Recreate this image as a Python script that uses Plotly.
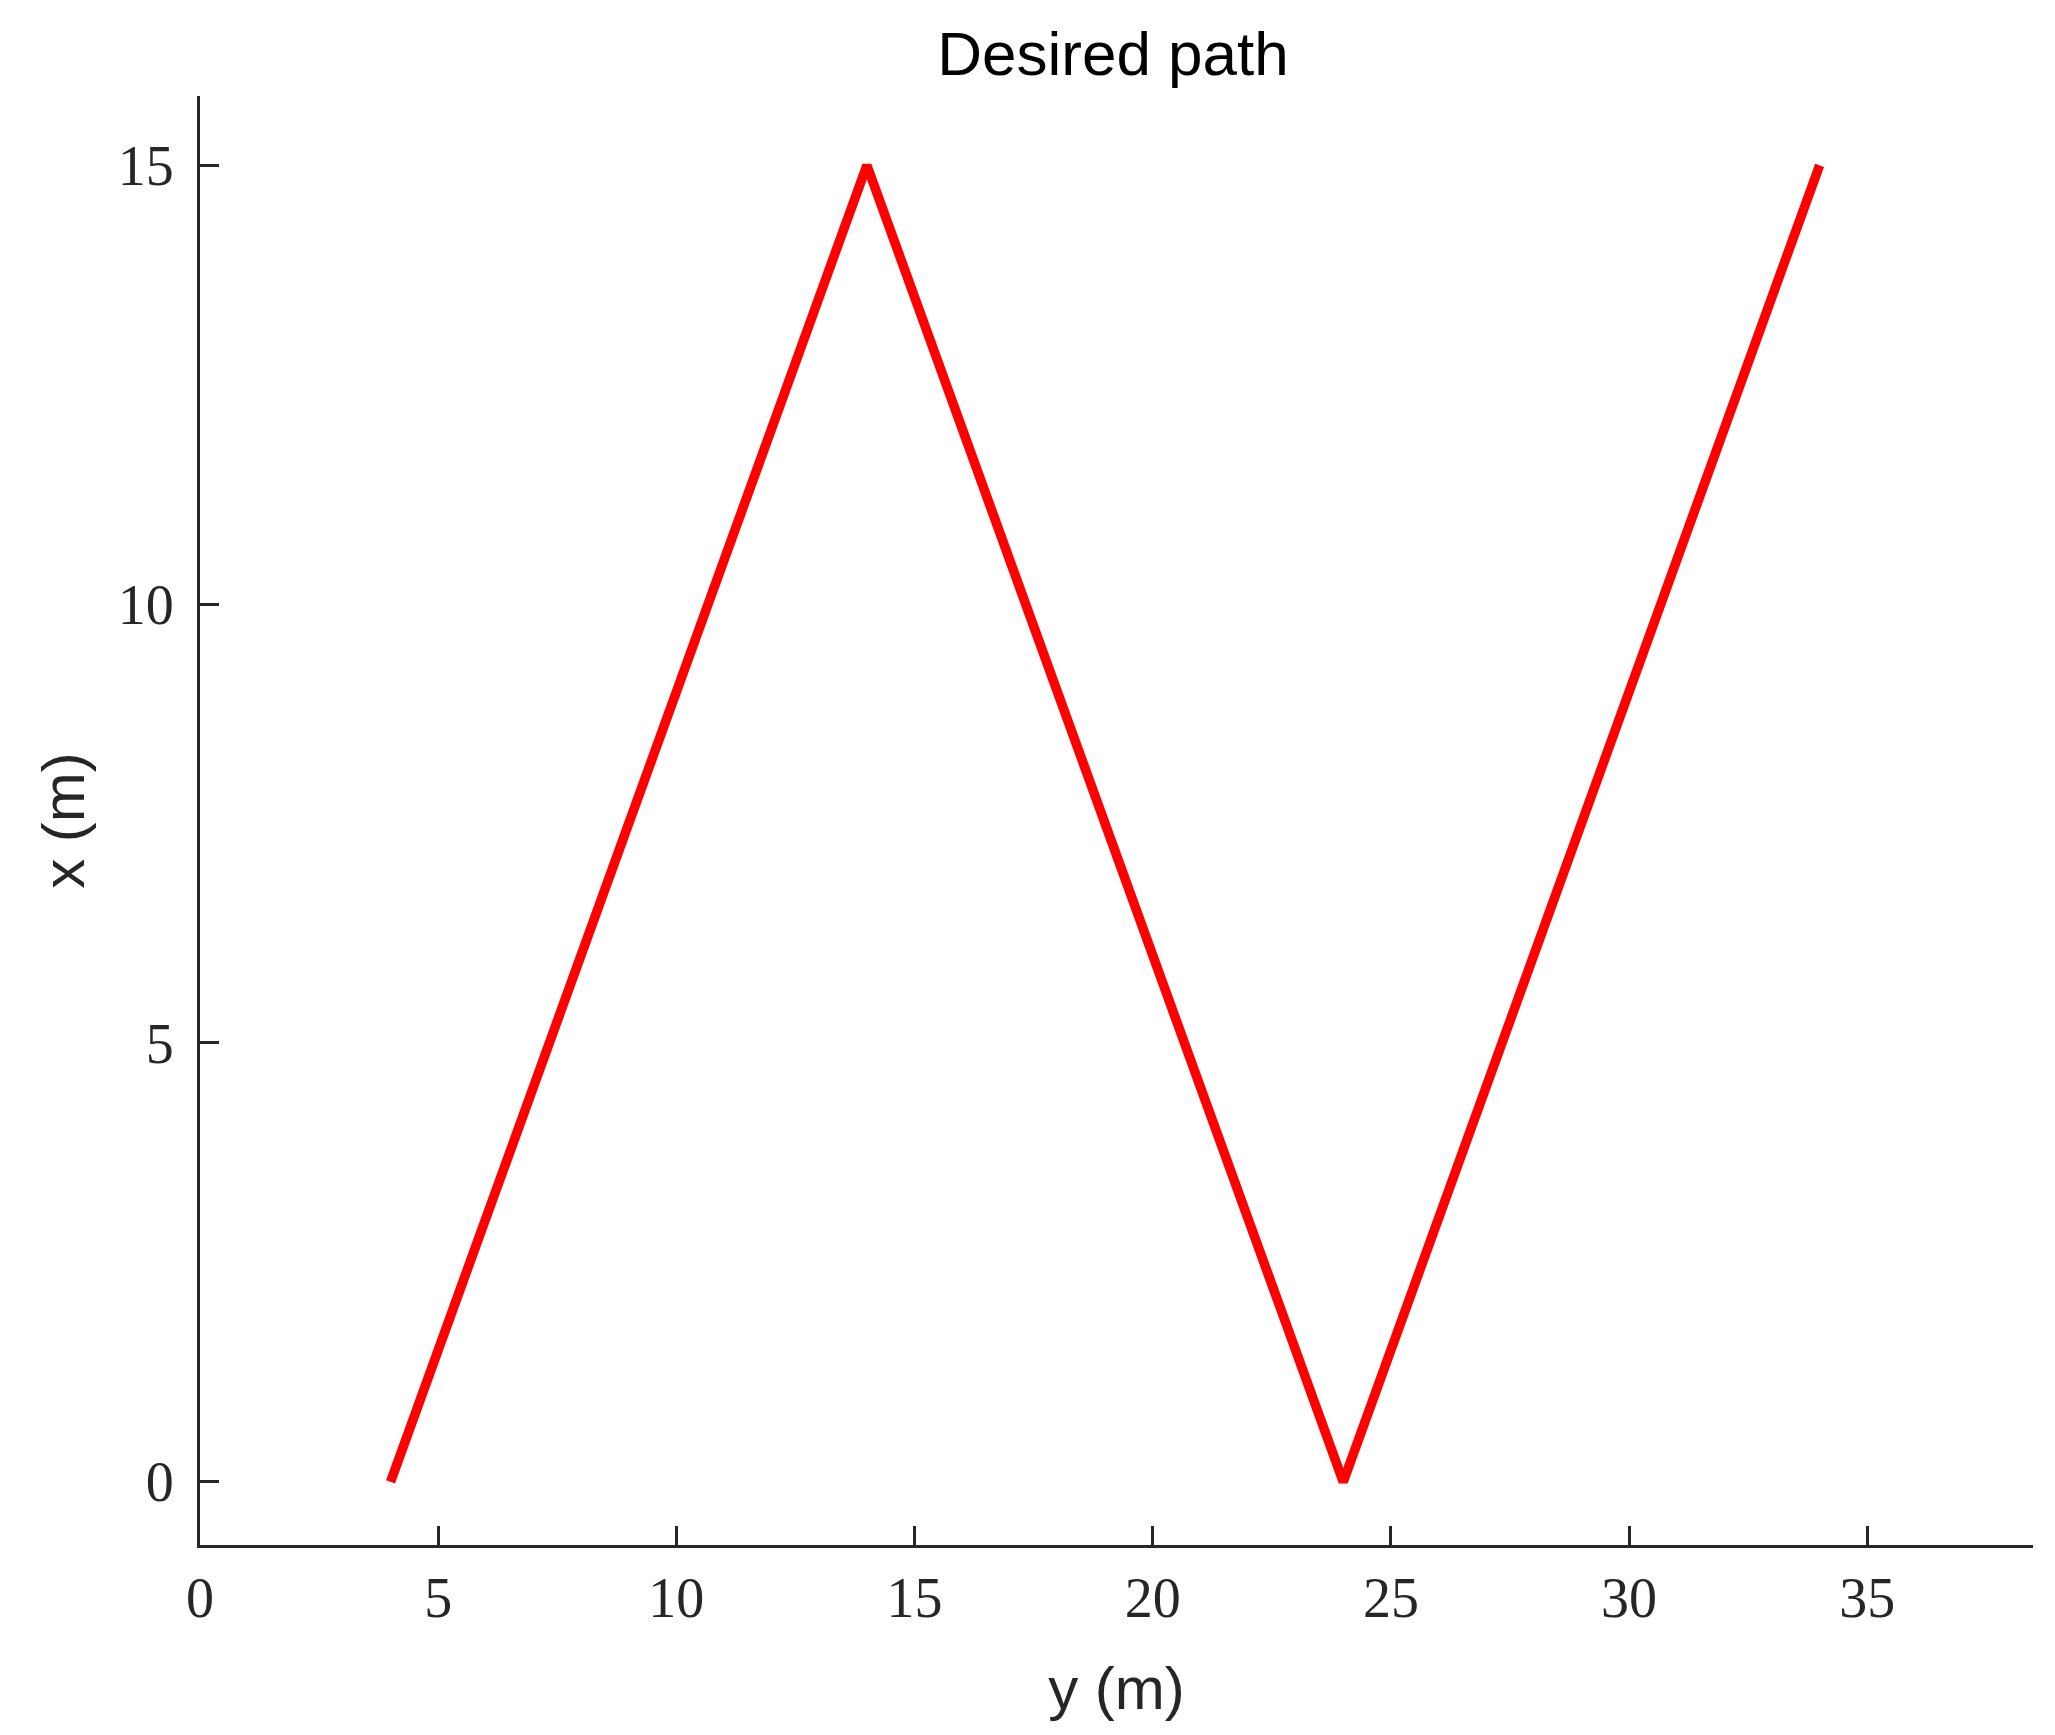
import plotly.graph_objects as go

# Path waypoints: horizontal axis is y (m), vertical axis is x (m)
path_y = [4, 14, 24, 34]
path_x = [0, 15, 0, 15]

x_ticks = [0, 5, 10, 15, 20, 25, 30, 35]
y_ticks = [0, 5, 10, 15]

axis_color = "#262626"
serif = "Liberation Serif, Times New Roman, serif"
sans = "Liberation Sans, Arial, sans-serif"

fig = go.Figure()
fig.add_trace(go.Scatter(
    x=path_y, y=path_x, mode="lines",
    line=dict(color="#ff0000", width=9.5),
    showlegend=False,
))

# the page body adds an 8px offset, compensated in the margins
fig.update_layout(
    width=2055, height=1735,
    paper_bgcolor="white", plot_bgcolor="white",
    margin=dict(l=192, r=30, t=88, b=198, autoexpand=False),
    title=dict(text="Desired path", x=1105 / 2055, xanchor="center",
               y=1 - 67 / 1735, yanchor="bottom",
               font=dict(family=sans, size=62, color="black")),
)
fig.update_xaxes(
    range=[0, 38.48], tickvals=x_ticks, ticktext=[str(v) for v in x_ticks],
    showgrid=False, zeroline=False, automargin=False,
    showline=True, linecolor=axis_color, linewidth=3, mirror=False,
    ticks="inside", ticklen=19, tickwidth=3, tickcolor=axis_color,
    tickfont=dict(family=serif, size=56, color=axis_color),
    ticklabelstandoff=2,
    title=dict(text="y (m)", font=dict(family=sans, size=60, color=axis_color), standoff=39),
)
fig.update_yaxes(
    range=[-0.72, 15.79], tickvals=y_ticks, ticktext=[str(v) for v in y_ticks],
    showgrid=False, zeroline=False, automargin=False,
    showline=True, linecolor=axis_color, linewidth=3, mirror=False,
    ticks="inside", ticklen=19, tickwidth=3, tickcolor=axis_color,
    tickfont=dict(family=serif, size=56, color=axis_color),
    ticklabelstandoff=12,
    title=dict(text="x (m)", font=dict(family=sans, size=60, color=axis_color), standoff=14),
)

fig.write_html("out.html")
